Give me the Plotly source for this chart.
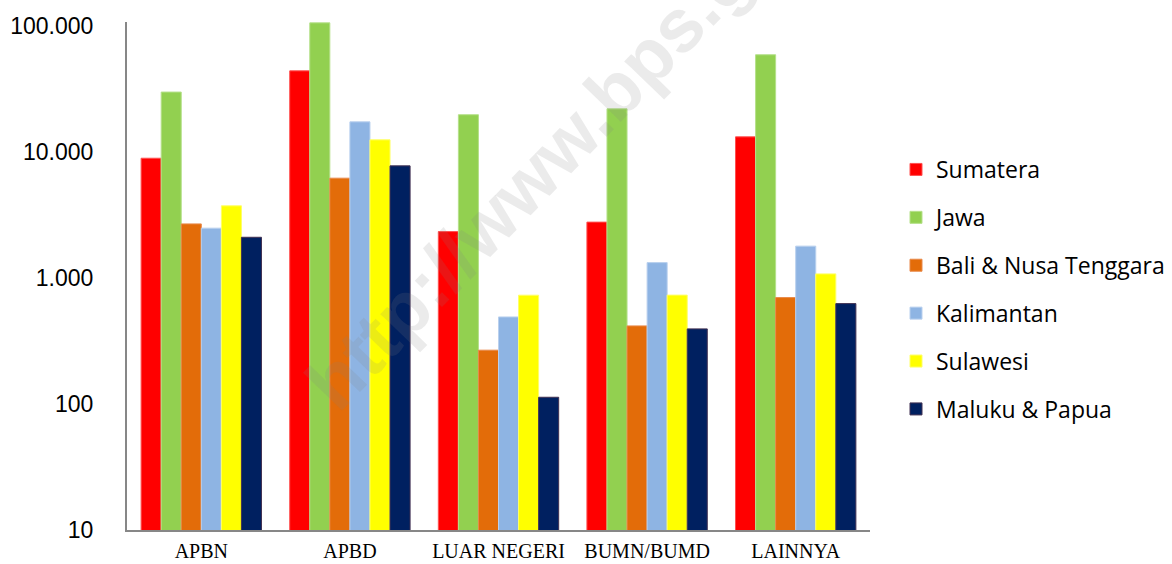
import plotly.graph_objects as go

categories = ["APBN", "APBD", "LUAR NEGERI", "BUMN/BUMD", "LAINNYA"]
sumatera = [8900, 43900, 2330, 2770, 13150]
jawa = [29800, 105500, 19700, 21950, 58900]
bali_nt = [2680, 6180, 267, 416, 698]
kalimantan = [2480, 17300, 490, 1322, 1786]
sulawesi = [3730, 12450, 729, 730, 1076]
maluku_papua = [2100, 7740, 113, 394, 625]

series = [
    ("Sumatera", sumatera, "#FF0000", "#FF5050"),
    ("Jawa", jawa, "#92D050", "#B5E08A"),
    ("Bali & Nusa Tenggara", bali_nt, "#E36C09", "#E8894A"),
    ("Kalimantan", kalimantan, "#8EB4E3", "#B9D0EE"),
    ("Sulawesi", sulawesi, "#FFFF00", "#FFFF66"),
    ("Maluku & Papua", maluku_papua, "#002060", "#403152"),
]

tick_vals = [10, 100, 1000, 10000, 100000]
tick_text = ["10", "100", "1.000", "10.000", "100.000"]

fig = go.Figure()
for i, (name, vals, col, lcol) in enumerate(series):
    fig.add_trace(go.Bar(
        x=categories, y=vals, name=name,
        marker=dict(color=col, line=dict(color=lcol, width=1)),
        legendgroup=f"g{i}",
    ))

fig.add_annotation(
    text="http://www.bps.go.id", xref="paper", yref="paper",
    x=0.603, y=0.783, xanchor="center", yanchor="middle",
    showarrow=False, textangle=-46,
    font=dict(family="Liberation Sans", size=75, color="rgba(128,128,128,0.16)", weight="bold"),
)

fig.update_layout(
    width=1172, height=564,
    margin=dict(l=127, r=302, t=22, b=34, autoexpand=False),
    paper_bgcolor="white", plot_bgcolor="white",
    barmode="group", bargap=0.19, bargroupgap=0,
    showlegend=True,
    legend=dict(
        x=1.035, xanchor="left", y=0.752, yanchor="top",
        font=dict(family="Open Sans", size=23, color="#000000"),
        tracegroupgap=15, traceorder="grouped",
        bgcolor="rgba(0,0,0,0)",
    ),
    xaxis=dict(
        showline=True, linecolor="#878787", linewidth=2,
        showgrid=False, ticks="", ticklabelstandoff=2, automargin=False,
        tickfont=dict(family="Liberation Serif", size=20, color="#000000"),
    ),
    yaxis=dict(
        type="log", range=[1, 5.03],
        tickvals=tick_vals, ticktext=tick_text,
        showline=True, linecolor="#878787", linewidth=2,
        showgrid=False, zeroline=False, ticks="", ticklabelstandoff=27, automargin=False,
        tickfont=dict(family="Liberation Sans", size=23, color="#000000"),
    ),
)

fig.write_html("out.html")
